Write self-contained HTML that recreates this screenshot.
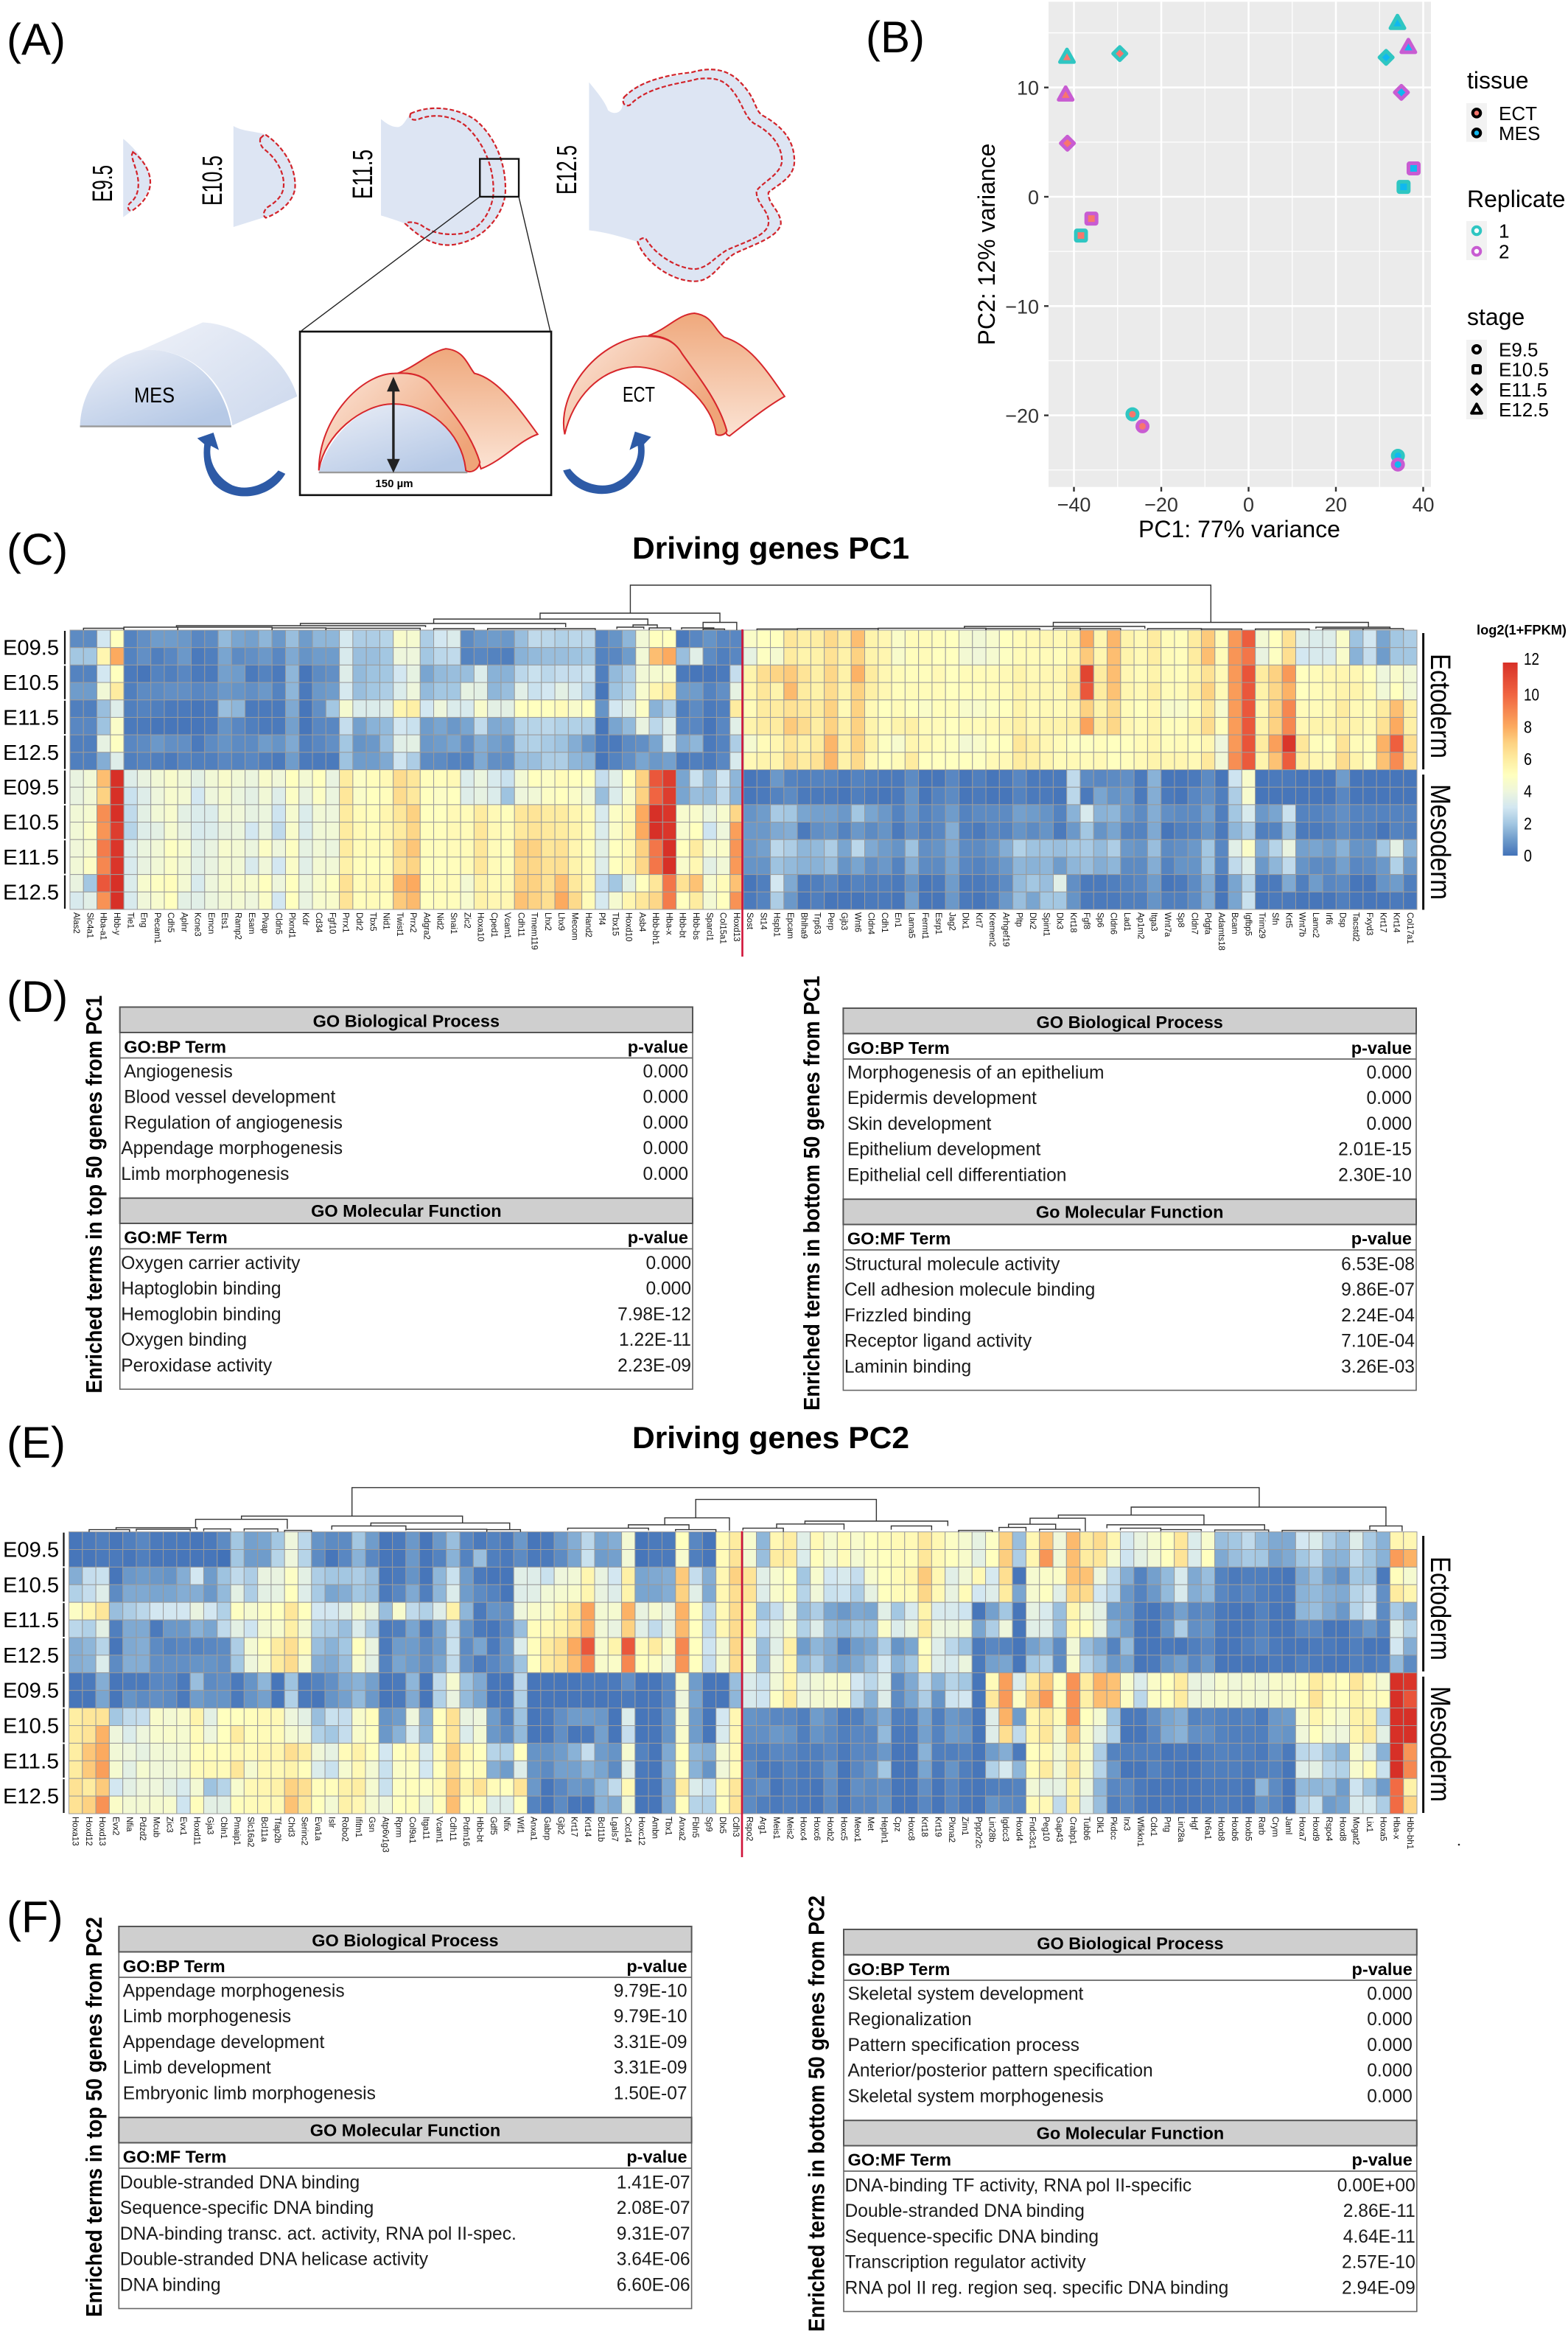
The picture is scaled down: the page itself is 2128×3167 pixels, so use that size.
<!DOCTYPE html>
<html lang="en">
<head>
<meta charset="utf-8">
<title>Limb bud RNA-seq figure</title>
<style>
html,body{margin:0;padding:0;background:#fff}
svg{display:block;font-family:"Liberation Sans",sans-serif}
.ns{vector-effect:non-scaling-stroke}
</style>
</head>
<body>
<svg id="fig" xmlns="http://www.w3.org/2000/svg" width="2128" height="3167" viewBox="0 0 2128 3167">
<defs>
<linearGradient id="gBlue" x1="0" y1="0" x2=".7" y2="1"><stop offset="0" stop-color="#eceff7"/><stop offset="1" stop-color="#b6c9e6"/></linearGradient>
<linearGradient id="gBlueBack" x1="0" y1="0" x2="1" y2="1"><stop offset="0" stop-color="#eef1f8"/><stop offset="1" stop-color="#ccd8ed"/></linearGradient>
<linearGradient id="gFront" x1="0" y1="0" x2="1" y2="0.6"><stop offset="0" stop-color="#fbe6da"/><stop offset="1" stop-color="#efa478"/></linearGradient>
<linearGradient id="gBack" x1="0" y1="0" x2="0" y2="1"><stop offset="0" stop-color="#efa87c"/><stop offset="1" stop-color="#fbe3d4"/></linearGradient>
<linearGradient id="gBar" x1="0" y1="1" x2="0" y2="0"></linearGradient>
</defs>

<g>
<text x="9" y="74" font-size="60">(A)</text>
<g transform="scale(.7334,.4464)">
<g>
<path fill="#dde5f3" d="M228 422C250 450 280 510 278 550C278 590 255 630 228 660Z"/>
<path class="ns" fill="none" stroke="#d2232a" stroke-width="2.2" stroke-dasharray="6 3" d="M246 462C262 480 280 520 278 560C276 600 258 625 245 640C235 643 236 625 240 618C255 600 258 570 255 540C252 510 245 490 244 470Z"/>
</g>
<g>
<path fill="#dde5f3" d="M432 383C450 400 470 398 490 408C525 440 550 510 547 570C545 610 515 650 490 660L432 690Z"/>
<path class="ns" fill="none" stroke="#d2232a" stroke-width="2.2" stroke-dasharray="6 3" d="M482 420L490 408C525 445 548 510 546 570C544 610 520 645 492 662C485 655 488 640 495 630C515 610 525 590 525 560C525 520 510 480 490 455C482 445 480 430 482 420Z"/>
</g>
<g>
<path fill="#dde5f3" d="M705 362C715 375 725 388 738 386C748 380 750 365 760 345C800 315 850 330 880 365C920 420 938 510 935 590C930 660 890 740 830 745C795 745 770 710 750 680C735 670 715 660 705 655Z"/>
<path class="ns" fill="none" stroke="#d2232a" stroke-width="2.2" stroke-dasharray="6 3" d="M760 345C800 315 850 330 880 365C920 420 938 510 935 590C930 660 890 740 830 745C795 745 770 710 750 680C755 672 770 675 780 685C800 710 830 718 860 708C890 695 910 640 913 590C915 510 895 430 860 380C835 350 800 345 775 362C765 368 755 362 760 345Z"/>
</g>
<g>
<path fill="#dde5f3" d="M1090 250C1105 280 1120 310 1125 335C1135 350 1150 345 1152 320C1152 305 1155 295 1165 280C1190 235 1250 235 1280 220C1320 200 1350 215 1370 250C1400 300 1395 330 1410 350C1450 385 1470 430 1470 490C1470 540 1440 560 1422 585C1420 620 1445 640 1445 680C1440 720 1400 740 1360 770C1330 800 1320 855 1285 855C1240 855 1190 790 1180 735C1150 720 1120 705 1090 700Z"/>
<path class="ns" fill="none" stroke="#d2232a" stroke-width="2.2" stroke-dasharray="6 3" d="M1155 295C1165 280 1190 235 1280 220C1320 200 1350 215 1370 250C1400 300 1395 330 1410 350C1450 385 1470 430 1470 490C1470 540 1440 560 1422 585C1420 620 1445 640 1445 680C1440 720 1400 740 1360 770C1330 800 1320 855 1285 855C1240 855 1190 790 1180 735C1185 725 1190 722 1195 725C1210 770 1250 815 1285 818C1310 815 1320 785 1345 760C1380 735 1420 715 1422 680C1425 640 1398 620 1400 580C1410 555 1445 530 1447 490C1447 440 1425 400 1395 375C1375 350 1375 310 1350 265C1335 240 1320 235 1290 240C1260 255 1200 260 1165 320C1155 325 1150 310 1155 295Z"/>
</g>
<g>
<rect class="ns" x="888" y="483" width="72" height="115" fill="none" stroke="#111" stroke-width="2.4"/>
<path class="ns" d="M888 598L558 1005M960 598L1018 1005" fill="none" stroke="#222" stroke-width="1.4"/>
</g>
<g>
<path fill="url(#gBlueBack)" d="M260 1065L375 980C450 985 530 1090 550 1205L430 1293C415 1130 330 1050 260 1065Z"/>
<path fill="url(#gBlue)" d="M148 1295C150 1190 190 1090 260 1065C330 1050 410 1130 428 1295Z"/>
<path class="ns" d="M148 1296H428" stroke="#9a9a9a" stroke-width="2.4"/>
</g>
<g>
<rect class="ns" x="555" y="1008" width="465" height="497" fill="#fff" stroke="#111" stroke-width="2.6"/>
<path fill="url(#gBlue)" d="M590 1435C610 1310 680 1225 730 1225C790 1225 860 1310 865 1435Z"/>
<path class="ns" d="M590 1436H865" stroke="#9a9a9a" stroke-width="2.4"/>
<path class="ns" fill="url(#gBack)" stroke="#d7262b" stroke-width="2" d="M735 1135C770 1115 795 1070 825 1060C860 1065 865 1110 878 1135C920 1150 960 1240 995 1320C960 1340 930 1400 890 1425C870 1310 830 1240 800 1175C790 1150 770 1130 735 1135Z"/>
<path class="ns" fill="url(#gFront)" stroke="#d7262b" stroke-width="2" d="M590 1430C590 1270 670 1135 730 1135C770 1130 790 1150 800 1175C830 1240 870 1310 888 1405C885 1430 870 1440 862 1430C855 1310 790 1225 725 1228C670 1230 600 1320 590 1430Z"/>
<path class="ns" d="M728 1170V1415" stroke="#222" stroke-width="3.4"/>
<path d="M728 1145L740 1190H716ZM728 1437L740 1395H716Z" fill="#222"/>
</g>
<g>
<path class="ns" fill="url(#gBack)" stroke="#d7262b" stroke-width="2" d="M1200 1020C1235 1000 1255 955 1285 952C1320 960 1320 1000 1340 1025C1390 1050 1420 1130 1452 1205C1420 1235 1385 1280 1350 1325C1340 1320 1345 1310 1345 1310C1330 1220 1290 1140 1262 1075C1250 1040 1230 1020 1200 1020Z"/>
<path class="ns" fill="url(#gFront)" stroke="#d7262b" stroke-width="2" d="M1045 1320C1030 1200 1100 1040 1190 1022C1230 1020 1250 1040 1262 1075C1290 1140 1330 1220 1345 1310C1340 1325 1330 1325 1325 1320C1320 1230 1250 1115 1175 1115C1110 1120 1060 1210 1045 1320Z"/>
</g>
<path fill="#2d5aa6" d="M528 1440C500 1520 430 1530 395 1470C378 1430 375 1390 378 1350L365 1332L395 1315L405 1368L390 1355C385 1400 400 1450 430 1475C460 1495 495 1470 515 1430Z"/>
<path fill="#2d5aa6" d="M1042 1430C1060 1505 1130 1525 1165 1470C1190 1430 1195 1390 1192 1350L1205 1328L1175 1312L1165 1368L1180 1355C1185 1400 1165 1450 1135 1470C1110 1485 1075 1470 1055 1425Z"/>
</g>
<text transform="translate(152,274) rotate(-90)" font-size="38" textLength="50" lengthAdjust="spacingAndGlyphs">E9.5</text>
<text transform="translate(301,279) rotate(-90)" font-size="38" textLength="68" lengthAdjust="spacingAndGlyphs">E10.5</text>
<text transform="translate(505,270) rotate(-90)" font-size="38" textLength="67" lengthAdjust="spacingAndGlyphs">E11.5</text>
<text transform="translate(782,264) rotate(-90)" font-size="38" textLength="67" lengthAdjust="spacingAndGlyphs">E12.5</text>
<text x="182" y="546" font-size="29" textLength="55" lengthAdjust="spacingAndGlyphs">MES</text>
<text x="845" y="545" font-size="29" textLength="44" lengthAdjust="spacingAndGlyphs">ECT</text>
<text x="535" y="661" font-size="15" font-weight="bold" text-anchor="middle">150 µm</text>
</g>

<g id="pca"></g>
<g id="heatC"></g>
<g id="heatE"></g>
<g id="tables"></g>

<text x="1175" y="71" font-size="60">(B)</text>
<text x="9" y="766" font-size="60">(C)</text>
<text x="9" y="1373" font-size="60">(D)</text>
<text x="9" y="1978" font-size="60">(E)</text>
<text x="9" y="2622" font-size="60">(F)</text>
<text x="1046" y="758" font-size="42" font-weight="bold" text-anchor="middle" textLength="376" lengthAdjust="spacingAndGlyphs">Driving genes PC1</text>
<text x="1046" y="1965" font-size="42" font-weight="bold" text-anchor="middle" textLength="376" lengthAdjust="spacingAndGlyphs">Driving genes PC2</text>
<circle cx="1980" cy="2503" r="1.3" fill="#222"/>
</svg>

<script>
/* ---------- PCA data ---------- */
const pcaPC1 = [-41.6,-29.5,-41.9,-41.5,-36,-38.4,-26.6,-24.3,34.1,36.6,31.5,35,37.8,35.5,34.2,34.2];
const pcaPC2 = [12.8,13.1,9.35,4.9,-2,-3.55,-19.9,-21,15.9,13.7,12.75,9.55,2.6,0.9,-23.7,-24.5];
const pcaTissue = ['ECT','ECT','ECT','ECT','ECT','ECT','ECT','ECT','MES','MES','MES','MES','MES','MES','MES','MES'];
const pcaReplicate = ['1','1','2','2','2','1','1','2','1','2','1','2','2','1','1','2'];
const pcaStage = ['E12.5','E11.5','E12.5','E11.5','E10.5','E10.5','E9.5','E9.5','E12.5','E12.5','E11.5','E11.5','E10.5','E10.5','E9.5','E9.5'];
const pcaXTicks = [-40,-20,0,20,40];
const pcaYTicks = [10,0,-10,-20];
const pcaXMinor = [-30,-10,10,30];
const pcaYMinor = [15,5,-5,-15,-25];
const tissueNames = ['ECT','MES'];
const replicateNames = ['1','2'];
const stageNames = ['E9.5','E10.5','E11.5','E12.5'];

/* ---------- Heatmap shared ---------- */
const rowLabels = ['E09.5','E10.5','E11.5','E12.5','E09.5','E10.5','E11.5','E12.5'];
const colorbarTicks = [0,2,4,6,8,10,12];

/* ---------- Heatmap PC1 ---------- */
const genesC = ['Alas2','Slc4a1','Hba-a1','Hbb-y','Tie1','Eng','Pecam1','Cdh5','Aplnr','Kcne3','Emcn','Ets1','Ramp2','Esam','Plvap','Cldn5','Plxnd1','Kdr','Cd34','Fgf10','Prrx1','Ddr2','Tbx5','Nid1','Twist1','Prrx2','Adgra2','Nid2','Snai1','Zic2','Hoxa10','Cped1','Vcam1','Cdh11','Tmem119','Lhx2','Lhx9','Mecom','Hand2','Pf4','Tbx15','Hoxd10','Asb4','Hbb-bh1','Hba-x','Hbb-bt','Hbb-bs','Sparcl1','Col15a1','Hoxd13','Sost','St14','Hspb1','Epcam','Bhlha9','Trp63','Perp','Gjb3','Wnt6','Cldn4','Cdh1','En1','Lama5','Fermt1','Esrp1','Jag2','Dlx1','Krt7','Kremen2','Arhgef19','Pltp','Dlx2','Spint1','Dlx3','Krt18','Fgf8','Sp6','Cldn6','Lad1','Ap1m2','Itga3','Wnt7a','Sp8','Cldn7','Pdgfa','Adamts18','Bcam','Igfbp5','Trim29','Sfn','Krt5','Wnt7b','Lamc2','Irf6','Dsp','Tacstd2','Fxyd3','Krt17','Krt14','Col17a1'];
const heatCLeft = [
[.6,.6,3,5,.4,.7,1,1,.9,.5,.6,1.7,1.2,1.1,1.6,.9,1.8,1,1.6,1.6,3.1,2.2,2.2,2.4,4.6,4.4,2.2,3,3.3,.6,.9,1,.9,1.8,2.6,2.5,2.3,2.5,2.5,.5,.8,1.6,4.2,5,5,.2,.5,.8,.5,.5],
[2,2,5.5,8,.4,.7,.3,.5,.9,.2,.3,1.2,.6,.7,.9,.5,1.3,.8,1,1,3.2,1.8,1.8,2,4,4,2,2.5,2.6,.4,.5,.4,.3,1.5,1.7,1.8,1.8,1.9,2,.4,.5,1,4.2,7.5,8,1.8,3.5,.6,.3,.5],
[.4,.4,3,5,.2,.1,.4,.3,.5,.2,.2,1.1,1,.2,.4,.2,1.6,.1,.6,.7,3.4,1.7,1.9,2,3,3.7,1.2,1.7,1.8,1.8,3.3,1.5,1.5,2.5,2.8,2.5,2.7,2.7,2.8,.3,1.7,2.2,4.2,4.4,4.5,.2,.1,.1,.2,2.7],
[1,1,4.2,6,.3,.6,.6,.7,.7,.5,.6,.9,.8,.7,.9,.4,1.6,.2,.9,1,3.1,1.8,2,2.2,3.3,4,1.7,2,2,3.7,3.6,1.6,1.8,3.5,2.8,3,3.6,3.2,2.5,.1,1.9,2.4,4.5,5.5,6,1,1,.4,.7,3.7],
[.3,.3,1.8,3.4,.3,.4,.3,.2,.2,.1,.2,1.8,1.6,.2,.2,.2,1.3,.1,.7,2,4.4,3.3,3.3,3.4,5.5,5.8,3,4,3.3,3.2,4.6,3.6,3.6,5,5,5,5.2,4.6,5,.8,3,3.5,4.8,1.5,2.2,.3,.6,.2,.3,6],
[.5,.5,1.9,4.7,.2,.2,.1,.1,.1,.1,.2,.8,.5,.3,.2,.2,1.1,.1,.5,.5,2.7,1.1,1.5,1.7,3,2.8,1,1.2,.9,1.2,2.6,1.3,1.4,2.4,2.4,2.5,2.3,2.3,2.2,.1,1.2,1.7,3.8,2.5,3.4,.5,.5,.1,.5,3.5],
[.3,.3,3.7,4.9,.5,.6,.9,.7,.7,.2,.6,.8,.6,.6,1,.8,1.3,.3,.5,.7,2,.8,.9,1.8,3.5,3.6,.9,1,1.2,.7,1.4,1.1,.9,2.2,2.3,2.1,1.9,1.4,.8,.2,.2,.6,.7,1.2,3.2,1.3,1.6,.2,.4,2.2],
[.3,.3,1.4,3.4,.3,.4,.3,.2,.4,.3,.3,.5,.4,.5,.3,.2,1,.2,.2,.2,1.9,1,1,1.3,2.9,2.2,.6,.6,.4,.4,1.3,.7,.7,1.8,1.8,2.2,2.2,1.6,1.5,.1,.4,.7,1.2,.9,1.1,.2,.3,.2,.5,3.2],
[3.8,4.2,7.5,12,3.4,3.8,4.2,4.6,4.2,3.6,4.2,4.6,4.2,3.9,4.6,4.1,5,4.3,5,3.8,6,4.8,5.1,5.3,6.6,6.2,5.1,5.1,5.3,3.3,3.9,3.2,2.8,4.3,5,4.8,5.2,5,5,2.7,3.5,5,7,10.5,11.5,1.2,2.8,1.7,2.9,1.6],
[3.8,4.2,7,12,2.8,3.4,4,4.5,4.3,3,4,4.4,3.9,3.6,4.2,3.4,4.8,3.8,4.8,3.9,6.2,4.7,5,5.1,6.6,6.1,5,4.8,5,3.4,3.7,3.3,1.9,4,4.2,4.8,5,4.7,4.1,1.8,3.3,4.6,7,10,11.5,1.2,1.8,1.7,2.6,1.5],
[4.2,4.4,8.8,12,2.6,3.6,4.2,4.5,3.6,3.3,3.3,4.2,4.1,3.7,3.9,2.9,4.4,3.3,4.2,4,6,5.2,5.1,5.5,6.2,7,5,5,5.3,5.2,6,5.3,5.1,6.2,6.3,6,6,5.5,5.2,3.2,4.8,5.3,8,12,11.8,4.5,4.6,3.9,4.5,6.8],
[4.2,4.7,8.6,11.5,2.4,3.4,3.6,4.4,3.8,3.2,3.3,3.8,3.9,3,3.9,2.6,4.6,3.3,4.2,4.2,6,5.3,5.1,5.4,6,6.8,5.1,5.1,5.3,5.2,6.2,5.3,5.2,6.1,6.3,6.1,6,5.6,5.2,3.3,4.7,5.5,8,12,11.8,4.5,5,2.9,4,8.3],
[4.1,4.4,9.3,11.8,3.3,3.9,4.2,4.9,4.5,3.5,3.8,4.5,4.3,3.9,4.8,4,4.9,3.7,4.2,3.9,6,5.2,5.2,5.2,6.6,7.3,5.1,5.1,5.2,5.2,6.2,5.2,5.1,7,7,6.2,6.4,5.5,5.1,3.6,5,5.3,7,9.5,12,5,6,4.5,4.7,8.6],
[4.2,4.8,9,11.8,3.2,3.8,4.2,4.7,4.2,3.5,3.8,4.3,4.2,3.2,4.1,3,4.7,3.5,4.3,4.2,5.7,5.1,5,5.1,6.4,6.9,5,5,5.1,5.2,6.2,5.2,5.1,6.8,6.8,6.4,6.5,5.6,5.2,3.4,5,5.5,6.8,9.5,12,4.6,5.4,3.6,4.2,8.5],
[3.8,2,10.5,12,3.3,4.5,4.9,5.1,4.3,3.2,4,4.4,4.6,4.5,5,4,5,3.9,4.6,4.9,6.4,5.2,5.4,5.3,7.7,8,5.1,5.2,5.2,4.3,5.7,5.2,5.3,7,7,6.4,7.5,6.1,5.4,2.7,2,3.6,5,6.2,9.5,6.4,7.4,4.5,5.2,7.4],
[3.2,3.5,8.7,12,3.2,4.1,4.5,5,3.6,3.5,3.9,4.2,4.3,4,4.7,3,5,3.8,4.5,4.6,6.3,5.1,5.2,5.1,7.2,7.6,5,5.1,5.1,4.5,5.7,5.4,5.4,7.4,7,6.5,8,6.7,5.2,3.1,4.4,5.5,6.2,6.8,9.3,5,6,4.3,5,8.7]
];
const heatCRight = [
[4.7,5,5,6.2,5.8,5.9,6.7,5.9,7.5,5.6,5.4,4.7,5.2,5.2,5.1,5,4.4,4.2,4.5,5,5.2,5.3,5.4,5.3,5.6,8,5.5,7.7,5.6,5.3,6,5.2,5.1,6,7.2,5.2,8.5,10.3,4.3,5,6.4,3.5,3.3,3.4,4.7,1.9,3,1.2,2,2.2],
[3.7,4.9,4.4,6,5.6,5.7,6.4,5.7,7,5.6,5.5,4.6,5.1,5.2,5,5,4.3,4.1,4.4,4.9,5.2,5.2,5.2,5.1,5.5,7.2,5.5,7.5,5.6,5.3,5.9,5.2,5.1,6,7.5,5.2,8.6,9.5,3.8,4.9,6.5,3,3.2,3.2,4.6,1.5,2.7,1,2,2],
[5.6,6.5,6.9,7.2,6.3,5.8,6.8,5.7,7.8,6,5.4,5.2,5.1,5.1,5.3,5,5.2,5.2,5.2,5.3,5.6,5.3,5.4,5.4,6,11.2,6,7.5,5.4,5.2,5.6,5.2,5.1,5.6,6.4,5.3,8.5,10.6,6,7,8.5,5,5.2,5.4,5.5,5.4,5,4,4.6,4.2],
[5.5,6.2,5.6,7.6,6,5.7,6.6,5.6,7,5.8,5.4,5.1,5.2,5.2,5.2,5,5.1,5.1,5.2,5.2,5.6,5.4,5.4,5.3,6.2,10.5,6,7.4,5.5,5.3,5.9,5.2,5.2,5.8,7,5.3,8.4,10.5,5.7,6.8,7.8,5,5.2,5.3,5.6,5.6,5.2,4.2,5,4.2],
[5.2,6,6,6.4,6.1,6,7,5.3,7,5.3,5,5.2,5,4.7,5.1,5.1,4.6,4.6,4.9,5,5.6,5.2,5.3,5.2,5.4,7,5.6,6.6,5.2,5,5.4,4.6,4.6,5.1,6.2,4.5,8.4,10.5,5.4,7,9,5.2,5.2,5.3,6,5.3,5.2,6,7.5,5.8],
[5.6,6,6,7.2,6.6,5.9,7,5.8,7,5.6,5.2,5.6,5.8,5.2,5.2,5,5.2,5.2,5.3,5.4,5.8,5.4,5.6,5.6,5.8,8.2,6,6.8,5.4,5.2,5.6,5.1,5.1,5.6,6.6,5.1,8.4,10.5,5.6,7,9,5.4,5.6,5.6,5.8,5.6,5.3,6.4,8,5.8],
[4.4,5.2,5.5,6.2,5.7,6,7.7,5.7,7,5.7,4.9,4.5,5.5,5.3,5.1,4.9,4.3,4.6,5,5,6.2,5.8,5.4,5.2,4.9,4.9,5.1,5,5,5.2,5.5,5.1,5.2,5.1,5.4,4,8.5,10.6,6,8.3,11.8,6.2,5.1,5,6.3,5.2,5.1,7.8,10.2,6.5],
[5.3,5.6,5.6,6.6,6,6.4,7.7,5.7,6.7,5.3,5,5.2,6,5,5,5,5,4.9,5.3,5.3,6,5.8,5.5,5.2,5.3,5.2,5.3,5,5.1,5.3,5.6,5.5,5.5,5.3,6.1,4.2,8.8,10.4,5.6,7.4,10.3,5.9,5.4,5.3,6.6,5.6,5.1,7.4,8.9,6.4],
[.1,.2,.9,.4,.3,.4,.4,.2,.4,.3,.2,.2,.6,.1,.1,.5,.1,.3,.1,.2,.5,.2,.2,.2,2.6,.6,.5,.6,.7,.2,1.5,.1,.1,.2,.6,.1,2.9,4.6,.1,.2,.2,.1,.1,.1,1,.1,.1,.1,.1,.1],
[.1,.2,.4,.6,.2,.2,.2,.1,.3,.2,.1,.2,.8,.1,.4,.6,.1,.2,.1,.1,.4,.2,.2,.1,2.5,.2,1.2,.8,.9,.2,1.4,.2,.1,.5,.7,.3,2.2,4.5,.1,.1,.1,.1,.1,.1,.5,.1,.1,.1,.1,.1],
[.8,1,2.1,2,1.2,1.1,1.1,.9,2,1.2,.9,.4,.9,.4,.6,1,.4,.6,.6,.6,1.1,1,.8,.4,1.5,3.2,1.5,1.6,.9,.6,1.4,.7,.6,.6,1.1,.3,2,3.2,.9,1.2,2.8,.4,.4,.5,.7,.4,.4,.4,.4,.4],
[.9,.9,1.3,1.4,.2,.7,.8,.4,.9,.6,.8,.2,.7,.3,.5,1.4,.3,.2,.5,.4,.8,.6,.8,.2,.9,2,.8,1.2,.4,.4,1.3,.1,.3,.4,.8,.2,1.6,2.2,.3,.4,1.8,.2,.2,.3,.6,.3,.3,.1,.4,.3],
[.9,1.1,2.5,2.2,1.6,1.7,2.2,1.2,2.5,1.3,1,.8,1.9,.7,.8,1.3,.6,.6,.8,1.4,2.3,1.9,1.9,1.8,2,2.1,1.7,2.2,.9,.8,1.8,.6,.7,.9,2,.5,3.5,4.7,1.4,2.4,3.8,1.1,1.2,1,1.5,.8,.8,2,3.6,1.5],
[.8,.8,1.9,1.7,1.5,1.5,1.8,.8,1.2,.7,.9,.4,1.4,.6,.6,1.2,.5,.4,.6,.9,1.6,1.5,1.6,1,1.6,1.8,1.4,1.6,.6,.6,1.4,.4,.8,.8,1.9,.4,2.6,3.4,.9,1.6,2.6,.8,.6,.6,1.1,.5,.6,.9,2.3,.9],
[.1,.3,3,1.3,.2,.3,.5,.2,.4,.3,.3,.2,.8,.1,.2,1,.2,.2,.3,.6,1.7,2,1.8,3.5,.7,.2,.2,.3,.4,.5,1,.1,.2,.6,1.4,.1,1.2,2.4,.2,.2,1.3,.3,1,.5,.6,.1,.1,.8,1,.3],
[.2,.4,2.2,.9,.1,.3,.1,.1,.1,.2,.2,.1,1.1,.1,.1,.9,.2,.1,.3,.9,1.8,1.2,2,2,.8,.2,.2,.2,.3,.3,.8,.3,.3,.6,1.4,.1,1.2,2.8,.1,.2,.2,.1,.1,.1,.3,.1,.1,.1,.2,.1]
];
/* dendrogram merges: left column, right column, merge distance, left child distance, right child distance */
const dendroC = [
[41.6,84.7,61,23,10.5],[34.9,48.25,23,15,10.5],[47,49.5,10.5,3,0],[27,42.9,15,9,7],[17.1,36.8,9,6,4],[7.9,26.4,6,4,4],
[41.8,43.6,7,4,3],[40.6,42.6,4,1.5,1.5],[43,44.6,3,0,0],[45.4,47.8,3,1,1],[47,48.6,1.5,0,0],
[73,96.4,10.5,5,4],[66.4,79.8,5,2,2],[92.5,98,4,2,2],[73,75,2.5,0,0],[75,78,2,0,0],[93,96,2,0,0],[96,99,2,0,0],
[1,4,2.5,0,0],[4,8,4,0,0],[8,15,4,0,0],[15,19,3,0,0],[19,26,2.5,0,0],[27,30,2,0,0],[31,36,2,0,0],[36,39,2,0,0],
[51,54,1.5,0,0],[54,60,2,0,0],[60,68,2.5,0,0],[68,72,2,0,0],[80,84,2,0,0],[84,87,1.5,0,0],[88,92,1.5,0,0]
];

/* ---------- Heatmap PC2 ---------- */
const genesE = ['Hoxa13','Hoxd12','Hoxd13','Evx2','Nfia','Pdzd2','Mcub','Zic3','Evx1','Hoxd11','Gja3','Cbln1','Pmaip1','Slc16a2','Bcl11a','Tfap2b','Chd3','Serinc2','Eva1a','Islr','Robo2','Ifitm1','Gsn','Atp6v1g3','Rprm','Col9a1','Itga11','Vcam1','Cdh11','Prdm16','Hbb-bt','Gdf5','Nfix','Wif1','Anxa1','Gabrp','Gjb2','Krt17','Krt14','Bcl11b','Lgals7','Cxcl14','Hoxc12','Ambn','Tbx1','Anxa2','Fbln5','Sp9','Dlx5','Cdh3','Rspo2','Arg1','Meis1','Meis2','Hoxc4','Hoxc6','Hoxb2','Hoxc5','Meox1','Met','Hepln1','Cpz','Hoxc8','Krt18','Krt19','Plxna2','Zim1','Ppp2r2c','Lin28b','Igdcc3','Hoxd4','Fndc3c1','Peg10','Gap43','Crabp1','Tubb6','Dlk1','Pkdcc','Irx3','Wfikkn1','Cdx1','Prtg','Lin28a','Hgf','Nr6a1','Hoxb8','Hoxb6','Hoxb5','Rarb','Crym','Jaml','Hoxa7','Hoxd9','Rspo4','Hoxd8','Mogat2','Lix1','Hoxa5','Hba-x','Hbb-bh1'];
const heatELeft = [
[.1,.2,.3,.1,.3,.5,.2,.2,.2,.1,.2,.6,2,1.1,1.2,2,4,2.5,.8,.6,.6,2,1,.1,.2,.9,.1,.9,1.8,.5,.2,.4,.2,.9,.1,.2,.9,1.4,2.5,1.2,1.4,4.3,.1,.2,.2,5,.5,.1,5.2,6],
[.1,.1,.2,.2,.1,.3,.1,.1,.1,.1,.1,0,2,1,1,2.4,4,2.4,.6,.1,.5,1.5,.5,.1,.1,.9,.1,.4,1.5,.4,1.8,.3,.2,.6,.2,.2,.6,1.2,2.8,1,1.1,4.2,.1,.2,.2,4.5,.3,.1,5.2,6.3],
[1.4,2.7,2.8,.1,.9,1,.9,.8,1.4,3,1,1.9,2.6,2.2,3.8,3.8,4.8,3.6,2.2,2,2,2.2,1.8,.1,.2,.8,.1,1.6,2.8,1,.2,.1,.1,3.5,3.4,2.8,4,4.2,5.5,3.8,3,5.8,1.2,1.3,1.4,7.2,2.7,1.4,5.4,7],
[2.3,2.7,3.4,.6,1.3,1.3,1.2,1.2,1.4,1.4,.9,1.7,3.6,2.2,3.6,3.7,5,3.4,2.1,1.2,1.4,2,1.8,.2,.5,1.3,.3,1.6,3.3,1,.6,.4,.1,3.4,3.5,4.2,4.4,4.6,5.5,3.8,3.4,5.6,1.2,1.2,1.4,7,3.5,1.3,5.4,6.5],
[4.8,5.5,6.2,1.8,2.2,2.5,3,3,3,3.8,3,2.3,4.9,4.4,4.8,5,6.2,5,3,3,3.4,4.4,3.8,1.8,4.5,2.6,2.3,3.4,5.7,1.6,.2,.8,.7,4,4.6,4.6,5.4,6.2,8.2,4.3,4.4,7.8,3.8,4.4,3.8,7.8,5,2.5,5.3,6.6],
[2.5,2.3,3.6,.3,1.3,1.3,.2,.9,.9,1.5,1.2,2.6,3.6,2.9,4.3,4.5,5.8,4.3,2.3,2.2,1.8,3.3,2.2,.2,.3,1.2,.2,1.1,2.6,.8,.2,.1,.5,1.8,5.1,5.3,5.6,6.3,7.8,4.2,3.8,7,3.5,2.6,3.6,7.6,5,2.6,5.4,6.6],
[1.4,1.6,2.4,.1,1.3,1.4,.6,.4,.5,.4,.5,.6,2.2,4.3,5,6,6.5,5.2,1.8,1.5,2,5,3.8,.2,1,1,.6,1,2.8,.6,1.2,.2,.8,3.3,5.1,6,6.5,8,10.5,4.6,5.6,10.5,5.2,6,4.7,9,5,2.9,4.2,6.8],
[1.4,1.5,3.3,.6,1.4,1.4,.7,.7,.7,.8,.8,.7,2,4,4.6,6,6.6,4.5,1.4,1.3,1.8,4.5,3.6,.4,1.2,1,.7,1.2,2.6,.7,.2,.5,.8,1.9,5,6,6.4,7.5,9,4.6,4.7,9,5,4.8,4,8.6,5,2.7,4.4,6.6],
[.1,.2,1.4,.1,.2,.2,.5,.5,.2,1.8,.6,.7,.2,.8,1.6,.1,1.9,.2,.4,.7,1.3,1.5,1.1,.1,.2,1.6,.1,2.6,4.4,1.9,1.3,.1,.1,2.5,.1,.1,.1,.1,.2,.2,.2,.7,.1,.1,.5,4.5,1,.1,.1,1.8],
[.1,.1,1.2,.1,.8,.6,.7,.6,.2,1,.8,.8,.2,.8,1.1,.1,2.3,.2,.1,.8,1.1,1.7,.9,.1,.2,1.3,.1,2.3,3.8,1.7,1.2,.1,.1,2.3,.1,.1,.1,.1,.1,.1,.1,.2,.1,.1,.5,4,1.2,.1,.1,1.6],
[5.9,6.2,6.3,2,2.6,2.7,4.6,4.3,4.6,5.6,3.6,5,5,5.1,5.3,5.3,4,3.6,1.8,2.8,2.7,4.6,5.1,.8,1,4,1.4,5,6.4,3.8,4,1,.3,1.9,.1,.2,.7,1,1,.9,.1,3.3,.1,.1,.8,4.3,1,.1,3,5.4],
[6,6.3,7.8,4,3.3,4,4.5,4.6,4.4,5.2,4,5,6,5.1,5.2,5.2,4.4,4.1,2.3,2,2.7,4.6,5,.9,1.5,3.2,1.6,5,6.3,3.3,4.3,.9,.6,1.7,.1,.1,.7,.1,.2,1.1,.1,2.7,.1,.1,.8,4.6,1,.1,3.2,5.4],
[5.9,7.3,8,4.2,4,3.7,4.2,4.2,4.3,5.1,5.1,5.1,5.3,5.2,5.5,5.5,6.5,5.9,4.1,3.7,5.2,5.7,5,3,5,5.3,3.2,5.2,7,5.3,5,2.4,2.3,5,.8,.8,1,1.5,2.7,1,.8,4.4,.4,.1,1.3,5,1.6,1.4,4.4,5.3],
[6,7.2,8.3,4.4,3.6,4.4,4.1,4.1,4.3,5.2,5.3,5.2,6.2,4.4,5.3,5.3,5.6,5.1,3.3,2.8,4.4,5.3,4.3,2.8,4.7,4.8,3,5,6.6,5,5.2,1.4,1,3.4,.8,.6,1.1,1.1,1.5,1.2,.6,3.4,.2,.1,1.4,4.9,1.5,.8,4.1,5.2],
[6.4,6,7.2,3,3.6,4,4,3.6,3.2,4.3,1.9,2.4,4.5,5.3,5.5,5.7,7,6.5,5.1,5.1,5.7,5.9,4.4,2.8,4.9,5.1,4.8,5.3,7.2,5.6,6.4,5.2,5,6.3,.9,.1,.5,.9,.8,1.6,2.6,5.3,.1,.1,1.3,6,3.3,2.8,5.2,6.2],
[6.4,7,8.7,4.7,4.3,4.3,4.4,4.5,2.9,5.1,3.6,3.6,5.1,5.2,5.3,5.3,7.4,6.2,5,4.3,5.7,5.4,4.4,4,5,5.1,3.9,5.1,7.5,5,5.1,3.4,3.4,5,.4,.1,.6,.1,.1,1.5,1.3,4.2,.1,.1,1.3,5.1,2.4,2.3,5,6.3]
];
const heatERight = [
[4.5,1.6,5.4,5.9,3.5,5.3,4.4,5.2,4.6,5,5.2,5.3,5.3,6.1,5.4,4.8,4.4,3.7,4.8,7,1.8,5.4,7.3,4.1,7.6,6,6.6,5.5,3.1,3.8,4.4,5,6.2,3.3,4.5,1.8,2,2.6,1.7,1.3,1.3,3,3.3,2.2,1.8,3.4,2.1,1.5,5.5,5.4],
[4.3,1.8,6,6,3.3,5.1,4.3,5.2,4.3,4.8,5,5.2,5.1,6.2,5.3,5,4.6,3.6,5,7.1,2.2,5.5,8.6,4.2,7.5,6,6.2,4.4,2.9,3.6,4.2,5,6.3,3.3,5,1.3,1.8,2.1,2,1.1,1.3,2,2.5,1.5,1.5,2.6,2,1.5,8.4,7.8],
[6.3,3.5,4.5,5,2,4.5,3,3.2,2.7,4.5,5,5.2,5.5,7.2,5.4,3.5,4.2,5.3,3.1,6.5,.1,4.4,4.7,4.7,7.4,7.4,4,2.6,1.4,.4,1.1,1.7,3.2,1.3,1.8,.4,.2,.3,.3,.2,.1,1.3,1.8,1,.7,2,1.9,.2,5.1,4.4],
[6.3,3.4,4.6,5.1,2.4,4.1,2.8,2.9,2.2,3.7,5,5.2,5.2,6.8,5.3,3.8,5.2,3,3.4,6,1.2,4.4,4.9,3.5,6.8,6.7,3,2.5,.9,.4,.9,1.7,3.2,1.4,1.7,.5,.3,.5,.3,.2,.2,1.5,1.7,1.4,1.3,2.4,2.7,.7,6,5.5],
[5.6,1.9,2.7,4.1,1.7,2.2,1.2,.9,1.3,1.2,3.5,2,3.2,5.6,3.2,3.2,2.9,.1,1.1,2,.1,3.7,3.2,1.8,5.5,4.2,3.6,1,.9,.2,.1,.5,1.1,.5,.6,.2,.1,.1,.4,.1,.1,1.6,1.8,1.3,.9,2.4,3,.6,2.1,1.4],
[5.6,2.9,3.7,4.5,2.3,3.4,1.8,1.6,2,1.9,4.7,3.3,3.9,6,4,3.9,4.2,1.2,2.2,4,.1,3.5,3.4,1.8,5.3,5.1,3.8,1.5,1,.1,.1,.8,2.2,.7,.8,.2,.1,.2,.4,.1,.1,.5,.5,.1,.1,.5,.9,.4,3.4,2.4],
[4.2,1.8,3.5,5.8,1,1.6,1.3,.3,1,1.2,2.2,.8,1.2,5,3.4,2.5,1.9,.2,.5,.4,.1,1.1,1.5,.6,4.2,1.8,1.3,.4,1.7,.1,.1,.2,.1,.3,.5,.1,.1,.3,.5,.2,.1,.1,.2,.2,.1,.3,.1,.1,3,1.4],
[4.5,1.8,4,5.4,1.7,2.2,1.3,1,1.3,1.8,3,1.5,2,5.2,3.4,3.2,3.9,.2,1.1,1.2,.1,2,2.4,.6,4.5,2.4,1.8,.9,1.2,.1,.2,.8,1.1,.5,.9,.1,.1,.1,.1,.2,.1,.3,.2,.1,.1,.3,.2,.3,1.7,.6],
[3.3,2.8,4.2,5.5,3.8,4.2,4.5,4.6,3,2.5,3.3,.6,1.3,2.6,1.5,2.4,2,.1,5.2,8.3,3.3,6,7.2,5,8.7,6,7.8,7.4,4.5,3.3,4.7,5,6,3.8,3.9,4.5,4.1,4.4,4.2,4.6,4.6,4.9,6,5.3,5,6.2,5.3,4.3,12,11.8],
[3.2,2.9,4.9,6,4,4.3,4.4,4.5,2.5,1.5,3.4,.6,1.2,2.2,.8,2.9,3,.1,6.1,8.5,4.8,7,8.5,5,8.7,5.8,7.5,7.4,4.8,2.5,4.8,5,6,4,4.3,4.5,4.4,4.4,4.3,4.6,4.6,5,6.3,5.1,5,5.6,5.2,5.1,12,10.6],
[.8,.7,.5,.5,.3,1,.7,.2,.3,.8,1.3,.3,.3,1.2,.3,.9,.7,.1,3.4,7.8,1,5.5,6,5.2,8.7,5,4.4,1.9,.2,.2,.7,1.2,1.4,.4,.5,.4,.3,.4,.2,.9,1,4.4,5.5,4.8,4.4,5.7,5.7,2.4,12,12],
[.7,.7,.9,.8,.3,.8,.6,.3,.5,.5,1.7,.2,.2,1.1,.4,1,.9,.1,3.4,6.5,2.6,5.5,6.2,4.4,7.3,4.6,3.6,2.3,.1,.1,.5,1.3,1.5,.7,.7,.4,.3,.3,.3,.9,.8,4.1,5,4.2,4,5.5,6,3.6,12,12],
[.4,.3,.5,.5,.3,.3,.5,.2,.5,.5,.9,.1,.1,1.5,.3,.3,.4,.1,1,1.4,.2,5,5.3,4.2,6,4.6,2.2,.4,.3,.3,.3,.1,.2,.1,.3,.4,.3,.3,.2,.6,.2,2.5,2.7,1.9,1.5,4.6,3.4,1.5,12,8.6],
[.6,.2,.2,.4,.2,.3,.8,.1,.5,.8,2,.1,.1,1.2,.2,.8,.3,.1,2.3,3.1,1.6,5.2,6,4.2,6.2,4.4,2.4,.9,.1,.1,.4,.2,.1,.1,.3,.3,.3,.2,.3,.4,.1,3.4,3.6,2.5,2.3,4.5,5.2,2.8,12,9],
[.5,.7,.1,.3,.2,.1,.7,.1,.7,.6,.7,.1,.1,.7,.1,.5,.2,.1,.3,.3,.4,4.2,3.7,3.7,5.6,3.9,1.6,.5,.5,.2,.1,.1,.1,.1,.2,.2,.2,.1,1.6,.6,.1,1.7,1.6,1.7,1,2.9,1.9,1,9.8,5.7],
[.6,.3,.2,.3,.2,.1,.6,.1,.5,.5,.8,.1,.1,.5,.1,.5,.2,.1,.8,.6,.5,5.2,5.3,2.6,5.8,3.4,1.8,.3,.5,.2,.1,.2,.1,.1,.2,.3,.2,.1,.8,.5,.1,2.2,2.8,1,1.2,3.2,3.1,2.2,9.8,6.9]
];
const dendroE = [
[21,88.3,60,21.4,33.6],[46.5,59.9,44,19,14.6],[12.8,29.2,21.4,17,12],[9.4,16.2,17,5.7,4],[22.4,32.7,12,8,3.5],[44.2,49,19,9.6,1.4],[54.6,65.2,14.6,10.7,8],
[78.8,97.7,33.6,22.8,8],[73.4,84.2,22.8,18.5,9.6],[71.3,75.4,18.5,10.4,.7],[69.7,73.2,10.4,6,3.5],[77,88.7,9.6,5,2.5],[96.5,98.9,8,3,1],
[3.5,9.5,5.7,3,3],[1.5,4.5,3,0,0],[5,9,3.5,1,1],[10,12,4,1,1],[13,15.5,4,1,0],[16,18,2,0,0],[19.5,25,8,3,3],[25,31,3.5,2,1],[31,33.5,3,0,0],
[41.5,46,9.6,5,3],[37,43,5,2,2],[45,48,3,1,0],[50,53,5,2,0],[52.5,57.5,10.7,5,3],[61,64,8,3,2],[66,68.5,2,0,0],[69,71,6,1,1],[72,75,3.5,1,1],[78,81,5,2,1],[81,84,3,1,1],[85,89,2.5,0,0],[90,95,2,0,0],[95,97,2,0,0]
];

/* ---------- GO tables ---------- */
const bpTermsDL = ['Angiogenesis','Blood vessel development','Regulation of angiogenesis','Appendage morphogenesis','Limb morphogenesis'];
const bpValsDL = ['0.000','0.000','0.000','0.000','0.000'];
const mfTermsDL = ['Oxygen carrier activity','Haptoglobin binding','Hemoglobin binding','Oxygen binding','Peroxidase activity'];
const mfValsDL = ['0.000','0.000','7.98E-12','1.22E-11','2.23E-09'];
const bpTermsDR = ['Morphogenesis of an epithelium','Epidermis development','Skin development','Epithelium development','Epithelial cell differentiation'];
const bpValsDR = ['0.000','0.000','0.000','2.01E-15','2.30E-10'];
const mfTermsDR = ['Structural molecule activity','Cell adhesion molecule binding','Frizzled binding','Receptor ligand activity','Laminin binding'];
const mfValsDR = ['6.53E-08','9.86E-07','2.24E-04','7.10E-04','3.26E-03'];
const bpTermsFL = ['Appendage morphogenesis','Limb morphogenesis','Appendage development','Limb development','Embryonic limb morphogenesis'];
const bpValsFL = ['9.79E-10','9.79E-10','3.31E-09','3.31E-09','1.50E-07'];
const mfTermsFL = ['Double-stranded DNA binding','Sequence-specific DNA binding','DNA-binding transc. act. activity, RNA pol II-spec.','Double-stranded DNA helicase activity','DNA binding'];
const mfValsFL = ['1.41E-07','2.08E-07','9.31E-07','3.64E-06','6.60E-06'];
const bpTermsFR = ['Skeletal system development','Regionalization','Pattern specification process','Anterior/posterior pattern specification','Skeletal system morphogenesis'];
const bpValsFR = ['0.000','0.000','0.000','0.000','0.000'];
const mfTermsFR = ['DNA-binding TF activity, RNA pol II-specific','Double-stranded DNA binding','Sequence-specific DNA binding','Transcription regulator activity','RNA pol II reg. region seq. specific DNA binding'];
const mfValsFR = ['0.00E+00','2.86E-11','4.64E-11','2.57E-10','2.94E-09'];

const NS = 'http://www.w3.org/2000/svg';
function mk(tag, attrs, parent, text){
  const e = document.createElementNS(NS, tag);
  for (const k in attrs) e.setAttribute(k, attrs[k]);
  if (text !== undefined) e.textContent = text;
  if (parent) parent.appendChild(e);
  return e;
}

/* ---------- colour scale ---------- */
const scaleStops = [[0,[66,114,184]],[1,[111,156,203]],[2,[163,199,226]],[3,[211,231,241]],[4,[238,246,220]],[5,[255,255,191]],[6,[254,236,160]],[7,[253,210,130]],[8,[252,170,95]],[10,[240,100,65]],[12,[215,48,39]]];
function heatColor(v){
  v = Math.max(0, Math.min(12, v || 0));
  for (let i = 1; i < scaleStops.length; i++){
    if (v <= scaleStops[i][0]){
      const a = scaleStops[i-1], b = scaleStops[i], t = (v-a[0])/(b[0]-a[0]);
      return 'rgb(' + a[1].map((c,j)=>Math.round(c+(b[1][j]-c)*t)).join(',') + ')';
    }
  }
  return 'rgb(215,48,39)';
}

/* ---------- heatmap ---------- */
function drawHeatmap(root, cfg){
  const cw = (cfg.x1-cfg.x0)/cfg.genes.length;
  const rh = (cfg.y1-cfg.y0)/cfg.left.length;
  const colX = c => cfg.x0 + c*cw;
  const rowY = r => cfg.y0 + r*rh;
  const distY = d => cfg.y0 - d;
  cfg.left.forEach((rowL, r) => {
    const row = rowL.concat(cfg.right[r]);
    row.forEach((v, c) => {
      const cell = mk('rect', {x:colX(c), y:rowY(r), width:cw, height:rh, fill:heatColor(v), stroke:'#9b9b9b', 'stroke-width':1}, root);
      
      
    });
  });
  cfg.genes.forEach((g, c) => {
    const t = mk('text', {transform:'translate('+(colX(c)+cw/2-4)+','+(cfg.y1+4)+') rotate(90)', 'font-size':11.5, fill:'#111'}, root, g);
    
    
  });
  rowLabels.forEach((lab, i) => {
    const t = mk('text', {x:cfg.rowLabelX, y:rowY(i*2)+rh+10, 'font-size':29, textLength:76, lengthAdjust:'spacingAndGlyphs'}, root, lab);
    
    
    const bar = mk('line', {x1:cfg.x0-7, x2:cfg.x0-7, y1:rowY(i*2)+1, y2:rowY(i*2+2)-1, stroke:'#111', 'stroke-width':2.2}, root);
    
    
  });
  cfg.dendro.forEach(m => {
    const d = 'M'+colX(m[0])+' '+distY(m[3])+'V'+distY(m[2])+'H'+colX(m[1])+'V'+distY(m[4]);
    const p = mk('path', {d:d, fill:'none', stroke:'#333', 'stroke-width':1.4}, root);
    
    
  });
  const split = mk('line', {x1:cfg.splitX, x2:cfg.splitX, y1:cfg.y0-1, y2:cfg.splitEnd, stroke:'#d01339', 'stroke-width':2.6}, root);
  
  
  cfg.sides.forEach(s => {
    const b = mk('line', {x1:1931.6, x2:1931.6, y1:s.barY0, y2:s.barY1, stroke:'#111', 'stroke-width':3}, root);
    
    
    const t = mk('text', {transform:'translate(1942,'+s.textY+') rotate(90)', 'font-size':38, textLength:s.textLen, lengthAdjust:'spacingAndGlyphs'}, root, s.label);
    
    
  });
}
drawHeatmap(document.getElementById('heatC'), {
  genes:genesC, left:heatCLeft, right:heatCRight, dendro:dendroC,
  x0:95, x1:1923, y0:855, y1:1234, rowLabelX:4, splitX:1007.5, splitEnd:1298,
  sides:[{label:'Ectoderm',barY0:859,barY1:1044,textY:887,textLen:142},{label:'Mesoderm',barY0:1051,barY1:1234.5,textY:1064,textLen:157}]
});
drawHeatmap(document.getElementById('heatE'), {
  genes:genesE, left:heatELeft, right:heatERight, dendro:dendroE,
  x0:93.5, x1:1923, y0:2078.6, y1:2461, rowLabelX:4, splitX:1007, splitEnd:2520,
  sides:[{label:'Ectoderm',barY0:2084,barY1:2268,textY:2112,textLen:141},{label:'Mesoderm',barY0:2275,barY1:2460,textY:2288,textLen:157}]
});

/* ---------- colour bar ---------- */
(function(){
  const root = document.getElementById('heatC');
  const grad = document.getElementById('gBar');
  scaleStops.forEach(s => {
    mk('stop', {offset:s[0]/12, 'stop-color':'rgb('+s[1].join(',')+')'}, grad);
  });
  const cbY = v => 1161 - v/12*262;
  const bar = mk('rect', {x:2039.6, y:cbY(12), width:20, height:262, fill:'url(#gBar)'}, root);
  
  
  colorbarTicks.forEach(v => {
    const t = mk('text', {x:2068, y:cbY(v)+8 - (v===12?5:0), 'font-size':23, textLength:v>=10?21:11, lengthAdjust:'spacingAndGlyphs'}, root, String(v));
    
    
  });
  const title = mk('text', {x:2004, y:861, 'font-size':18, 'font-weight':'bold', textLength:122, lengthAdjust:'spacingAndGlyphs'}, root, 'log2(1+FPKM)');
  
  
})();

/* ---------- PCA ---------- */
(function(){
  const root = document.getElementById('pca');
  const X = v => 1694.5 + v*5.925;
  const Y = v => 267 - v*14.83;
  const bg = mk('rect', {x:1423, y:2.4, width:519, height:658.3, fill:'#ebebeb'}, root);
  
  
  pcaXMinor.forEach(v => { const l = mk('line', {x1:X(v), x2:X(v), y1:2.4, y2:660.7, stroke:'#fff', 'stroke-width':1.3}, root);
    
     });
  pcaYMinor.forEach(v => { const l = mk('line', {x1:1423, x2:1942, y1:Y(v), y2:Y(v), stroke:'#fff', 'stroke-width':1.3}, root);
    
     });
  pcaXTicks.forEach(v => {
    const l = mk('line', {x1:X(v), x2:X(v), y1:2.4, y2:660.7, stroke:'#fff', 'stroke-width':2.6}, root);
    
    
    const k = mk('line', {x1:X(v), x2:X(v), y1:660.7, y2:667, stroke:'#333', 'stroke-width':2.4}, root);
    
    
    const t = mk('text', {x:X(v), y:694, 'font-size':27, 'text-anchor':'middle', fill:'#333'}, root, String(v).replace('-','\u2212'));
    
    
  });
  pcaYTicks.forEach(v => {
    const l = mk('line', {x1:1423, x2:1942, y1:Y(v), y2:Y(v), stroke:'#fff', 'stroke-width':2.6}, root);
    
    
    const k = mk('line', {x1:1417, x2:1423, y1:Y(v), y2:Y(v), stroke:'#333', 'stroke-width':2.4}, root);
    
    
    const t = mk('text', {x:1410, y:Y(v)+10, 'font-size':27, 'text-anchor':'end', fill:'#333'}, root, String(v).replace('-','\u2212'));
    
    
  });
  const xt = mk('text', {x:1682, y:729, 'font-size':32, 'text-anchor':'middle'}, root, 'PC1: 77% variance');
  
  
  const yt = mk('text', {transform:'translate(1350,331.5) rotate(-90)', 'font-size':32, 'text-anchor':'middle'}, root, 'PC2: 12% variance');
  
  

  function marker(stage, cx, cy, fill, stroke, sw, k){
    k = k || 1;
    if (stage === 'E9.5') return mk('circle', {cx:cx, cy:cy, r:7*k, fill:fill, stroke:stroke, 'stroke-width':sw}, root);
    if (stage === 'E10.5') return mk('rect', {x:cx-7*k, y:cy-7*k, width:14*k, height:14*k, rx:1.5, fill:fill, stroke:stroke, 'stroke-width':sw}, root);
    if (stage === 'E11.5') return mk('path', {d:'M'+cx+' '+(cy-9*k)+'L'+(cx+9*k)+' '+cy+'L'+cx+' '+(cy+9*k)+'L'+(cx-9*k)+' '+cy+'Z', fill:fill, stroke:stroke, 'stroke-width':sw, 'stroke-linejoin':'round'}, root);
    return mk('path', {d:'M'+cx+' '+(cy-10*k)+'L'+(cx+9.5*k)+' '+(cy+7*k)+'L'+(cx-9.5*k)+' '+(cy+7*k)+'Z', fill:fill, stroke:stroke, 'stroke-width':sw, 'stroke-linejoin':'round'}, root);
  }
  const tissueColor = {ECT:'#f8766d', MES:'#10b8f0'};
  const repColor = {'1':'#2fc6c2', '2':'#c85cd2'};
  pcaPC1.forEach((v, i) => {
    const m = marker(pcaStage[i], X(v), Y(pcaPC2[i]), tissueColor[pcaTissue[i]], repColor[pcaReplicate[i]], 5);
    
    
  });

  /* legends */
  function legendTitle(txt, y){
    const t = mk('text', {x:1991, y:y, 'font-size':32}, root, txt);
    
    
  }
  function legendBg(y0, y1){
    const r = mk('rect', {x:1990, y:y0, width:28, height:y1-y0, fill:'#f2f2f2'}, root);
    
    
  }
  function legendText(txt, y){
    const t = mk('text', {x:2034, y:y+9.5, 'font-size':26}, root, txt);
    
    
  }
  legendTitle('tissue', 120);
  legendBg(140, 192.5);
  tissueNames.forEach((n, i) => {
    const y = 153.4 + i*27;
    const m = marker('E9.5', 2004, y, tissueColor[n], '#000', 4, .75);
    
    
    legendText(n, y);
  });
  legendTitle('Replicate', 281);
  legendBg(300, 353);
  replicateNames.forEach((n, i) => {
    const y = 313 + i*28;
    const m = marker('E9.5', 2004, y, '#fff', repColor[n], 4, .75);
    
    
    legendText(n, y);
  });
  legendTitle('stage', 441);
  legendBg(461, 569);
  stageNames.forEach((n, i) => {
    const y = 474 + i*27.2;
    const m = marker(n, 2004, y, '#fff', '#000', 4, .72);
    
    
    legendText(n, y);
  });
})();

/* ---------- GO tables ---------- */
function drawTable(cfg){
  const root = document.getElementById('tables');
  const x0 = cfg.x0, x1 = cfg.x1, top = cfg.top, cx = (x0+x1)/2;
  const g = mk('g', {}, root);
  
  
  mk('rect', {x:x0, y:top, width:x1-x0, height:518.5, fill:'#fff', stroke:'#666', 'stroke-width':1.6}, g);
  mk('rect', {x:x0, y:top, width:x1-x0, height:34.5, fill:'#cfcfcf', stroke:'#555', 'stroke-width':2}, g);
  mk('rect', {x:x0, y:top+259.2, width:x1-x0, height:34.3, fill:'#cfcfcf', stroke:'#555', 'stroke-width':2}, g);
  mk('line', {x1:x0, x2:x1, y1:top+69, y2:top+69, stroke:'#666', 'stroke-width':1.8}, g);
  mk('line', {x1:x0, x2:x1, y1:top+328, y2:top+328, stroke:'#666', 'stroke-width':1.8}, g);
  function hdr(txt, y){
    const t = mk('text', {x:cx, y:y+8, 'font-size':23.5, 'font-weight':'bold', 'text-anchor':'middle'}, g, txt);
    
    
  }
  function sub(txt, y){
    const a = mk('text', {x:x0+5.5, y:y+8, 'font-size':23.5, 'font-weight':'bold'}, g, txt);
    
    
    const b = mk('text', {x:x1-6, y:y+8, 'font-size':23.5, 'font-weight':'bold', 'text-anchor':'end'}, g, 'p-value');
    
    
  }
  function rows(terms, vals, y, tx, vx, indent){
    terms.forEach((term, i) => {
      const a = mk('text', {x:indent ? x0+indent[i] : tx, y:y+i*34.7+8, 'font-size':24.6, fill:'#1a1a1a'}, g, term);
      
      
      const b = mk('text', {x:vx, y:y+i*34.7+8, 'font-size':24.6, fill:'#1a1a1a', 'text-anchor':'end'}, g, vals[i]);
      
      
    });
  }
  hdr('GO Biological Process', top+19);
  sub('GO:BP Term', top+54);
  rows(cfg.bp, cfg.bpv, top+87.5, x0+5.5, x1-6, cfg.indent);
  hdr(cfg.mfHead, top+276.5);
  sub('GO:MF Term', top+312.5);
  rows(cfg.mf, cfg.mfv, top+347.5, x0+1.5, x1-2);
  const side = mk('text', {transform:'translate('+cfg.labelX+','+cfg.labelY+') rotate(-90)', 'font-size':31, 'font-weight':'bold', textLength:cfg.labelLen, lengthAdjust:'spacingAndGlyphs'}, root, cfg.label);
  
  
}
drawTable({name:'go-table-pc1-top',x0:162.7,x1:940,top:1366.5,bp:bpTermsDL,bpv:bpValsDL,mf:mfTermsDL,mfv:mfValsDL,mfHead:'GO Molecular Function',indent:[5.5,5.5,5.5,1.5,1.5],label:'Enriched terms in top 50 genes from PC1',labelX:138,labelY:1890.6,labelLen:540});
drawTable({name:'go-table-pc1-bottom',x0:1144.4,x1:1922,top:1368,bp:bpTermsDR,bpv:bpValsDR,mf:mfTermsDR,mfv:mfValsDR,mfHead:'Go Molecular Function',label:'Enriched terms in bottom 50 genes from PC1',labelX:1112,labelY:1914,labelLen:590});
drawTable({name:'go-table-pc2-top',x0:161.3,x1:938.6,top:2614,bp:bpTermsFL,bpv:bpValsFL,mf:mfTermsFL,mfv:mfValsFL,mfHead:'GO Molecular Function',label:'Enriched terms in top 50 genes from PC2',labelX:138,labelY:3144,labelLen:543});
drawTable({name:'go-table-pc2-bottom',x0:1145,x1:1922.8,top:2618,bp:bpTermsFR,bpv:bpValsFR,mf:mfTermsFR,mfv:mfValsFR,mfHead:'Go Molecular Function',label:'Enriched terms in bottom 50 genes from PC2',labelX:1118.5,labelY:3164,labelLen:592});
</script>
</body>
</html>
